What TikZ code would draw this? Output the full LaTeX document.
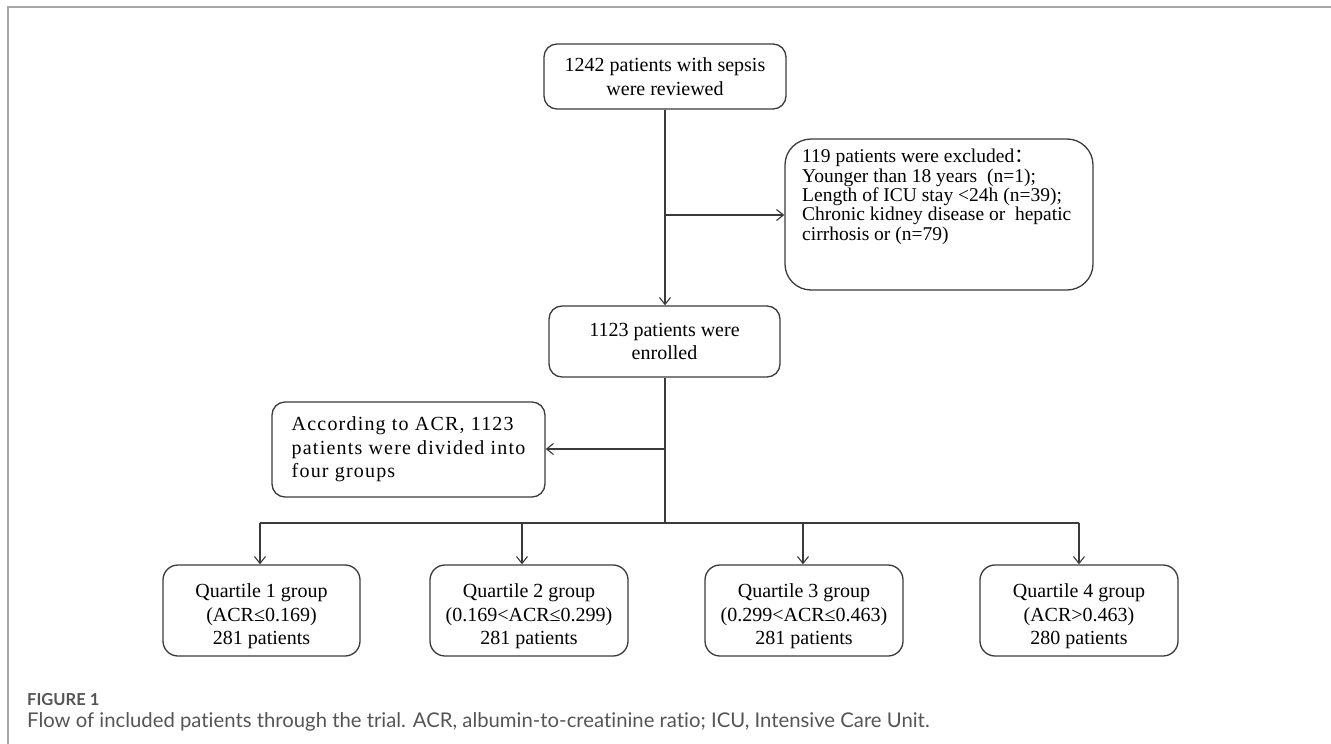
\documentclass[tikz,border=0pt]{standalone}
\usepackage{fontspec}
\setmainfont{Liberation Serif}
\newfontfamily\capfont[Ligatures={NoCommon,NoRare}, Contextuals=NoAlternate]{Lato}
\newfontfamily\cjk{Noto Sans CJK SC}
\usetikzlibrary{arrows.meta}
\definecolor{boxline}{HTML}{3A3A3A}
\definecolor{framegray}{HTML}{A8A8A8}
\definecolor{capgray}{HTML}{555555}
\tikzset{
  flowbox/.style={draw=boxline, line width=1.3pt, rounded corners=13pt, inner sep=0pt,
    font=\fontsize{20}{23.5}\selectfont, align=center},
  conn/.style={draw=boxline, line width=1.3pt},
  arr/.style={conn, -{Straight Barb[length=7pt,width=11pt,line width=1.1pt]}},
}
\begin{document}
\begin{tikzpicture}[x=1pt,y=-1pt]
\useasboundingbox (0,0) rectangle (1331,744);
% frame
\draw[framegray, line width=1.8pt] (8,744) -- (8,7) -- (1331,7);
% nodes
\node[flowbox, minimum width=242pt, minimum height=65pt] (top) at (665,76.5)
  {1242 patients with sepsis\\were reviewed};
\node[flowbox, rounded corners=26pt, minimum width=308pt, minimum height=151pt] (excl) at (939,214.5) {};
\node[anchor=north west, inner sep=0pt, align=left, font=\fontsize{19.5}{19.4}\selectfont] (excltext) at (802,149)
  {119 patients were excluded{\cjk ：}\\Younger than 18 years\ \ (n=1);\\Length of ICU stay <24h (n=39);\\Chronic kidney disease or\ \ hepatic\\cirrhosis or (n=79)};
\node[flowbox, minimum width=231pt, minimum height=71pt] (enr) at (664.5,341.5)
  {1123 patients were\\enrolled};
\node[flowbox, minimum width=273pt, minimum height=95pt, align=left] (acr) at (408.5,449.5)
  {\addfontfeature{LetterSpace=6}According to ACR, 1123\\\addfontfeature{LetterSpace=6}patients were divided into\\\addfontfeature{LetterSpace=6}four groups};
\node[flowbox, rounded corners=15pt, minimum width=197pt, minimum height=91pt] (q1) at (261.5,610.5)
  {\rule{0pt}{26pt}Quartile 1 group\\(ACR≤0.169)\\281 patients};
\node[flowbox, rounded corners=15pt, minimum width=198pt, minimum height=91pt] (q2) at (529,610.5)
  {\rule{0pt}{26pt}Quartile 2 group\\(0.169<ACR≤0.299)\\281 patients};
\node[flowbox, rounded corners=15pt, minimum width=198pt, minimum height=91pt] (q3) at (804,610.5)
  {\rule{0pt}{26pt}Quartile 3 group\\(0.299<ACR≤0.463)\\281 patients};
\node[flowbox, rounded corners=15pt, minimum width=198pt, minimum height=91pt] (q4) at (1079,610.5)
  {\rule{0pt}{26pt}Quartile 4 group\\(ACR>0.463)\\280 patients};
% connectors
\coordinate (j1) at (665,215);
\coordinate (j2) at (665,449);
\coordinate (bus) at (665,523);
\coordinate (b1) at (260,523);
\coordinate (b2) at (522,523);
\coordinate (b3) at (803,523);
\coordinate (b4) at (1079,523);
\draw[arr] (top.south) -- (top.south |- enr.north);
\draw[arr] (j1) -- (j1 -| excl.west);
\draw[conn] (enr.south -| bus) -- (bus);
\draw[arr] (j2) -- (j2 -| acr.east);
\draw[conn] (b1) -- (b4);
\draw[arr] (b1) -- (b1 |- q1.north);
\draw[arr] (b2) -- (b2 |- q2.north);
\draw[arr] (b3) -- (b3 |- q3.north);
\draw[arr] (b4) -- (b4 |- q4.north);
% caption
\node[anchor=west, inner sep=0pt, text=capgray, font=\capfont\bfseries\fontsize{16.5}{18}\selectfont] (figlabel) at (27,700) {FIGURE 1};
\node[anchor=west, inner sep=0pt, text=capgray, font=\capfont\fontsize{20.3}{22}\selectfont] (caption) at (27,722)
  {Flow of included patients through the trial. ACR, albumin-to-creatinine ratio; ICU, Intensive Care Unit.};
\end{tikzpicture}
\end{document}
